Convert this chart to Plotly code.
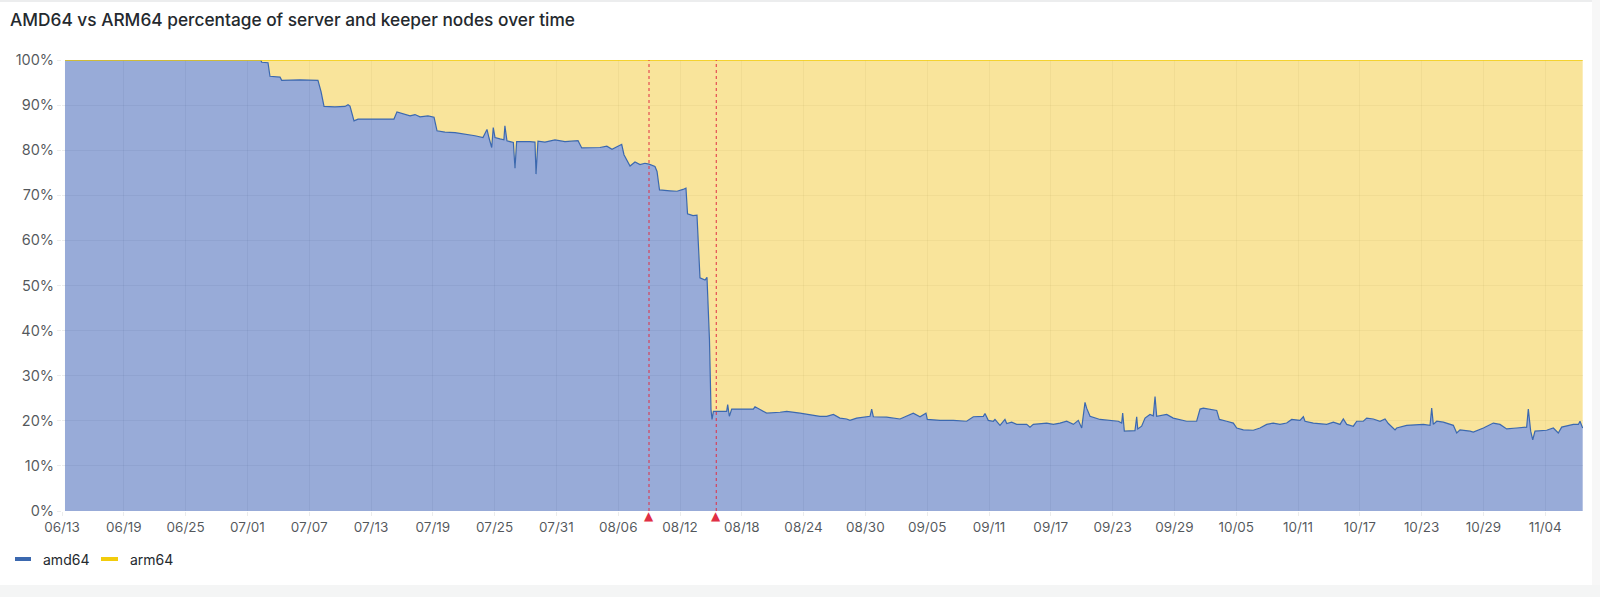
import pandas as pd
import plotly.graph_objects as go

# ---------------- data ----------------
start = pd.Timestamp("2024-06-13 00:00")

# days since 06/13 00:00
day_offset = [
    0.29, 19.30, 19.39, 20.00, 20.19, 21.17, 21.33, 23.10, 24.85, 25.15,
    25.44, 26.50, 27.48, 27.77, 27.96, 28.35, 28.74, 30.87, 32.23, 32.52,
    33.00, 33.79, 34.27, 34.76, 35.53, 36.12, 36.41, 37.18, 38.16, 39.13,
    40.10, 40.87, 41.26, 41.46, 41.72, 41.87, 42.04, 42.52, 42.90, 43.00,
    43.20, 43.50, 43.82, 43.98, 44.14, 45.44, 45.92, 46.02, 46.21, 46.89,
    47.86, 48.83, 50.10, 50.46, 52.23, 52.90, 53.40, 54.34, 54.56, 55.15,
    55.63, 56.12, 56.60, 56.99, 57.57, 57.77, 58.01, 59.03, 59.71, 60.29,
    60.58, 60.73, 61.26, 61.65, 61.94, 62.43, 62.62, 62.86, 63.01, 63.11,
    63.24, 64.53, 64.63, 64.79, 65.02, 67.12, 67.28, 67.77, 68.41, 69.71,
    70.36, 71.65, 72.62, 73.59, 74.24, 74.89, 75.53, 76.18, 76.50, 77.15,
    78.45, 78.61, 78.77, 80.06, 81.36, 82.33, 82.65, 83.30, 83.88, 84.01,
    85.24, 86.54, 87.83, 88.48, 89.45, 89.61, 89.93, 90.42, 90.58, 91.07,
    91.55, 91.72, 92.20, 92.69, 93.66, 93.98, 94.30, 95.60, 96.25, 96.89,
    97.54, 98.19, 98.67, 99.00, 99.32, 99.48, 99.81, 100.78, 102.56, 102.88,
    102.98, 103.14, 104.17, 104.34, 104.44, 104.82, 105.15, 105.63, 105.95, 106.12,
    106.28, 107.25, 107.89, 109.19, 110.16, 110.49, 110.81, 112.11, 112.36, 113.08,
    113.72, 114.05, 114.69, 115.66, 116.31, 116.96, 117.60, 118.25, 118.90, 119.39,
    120.19, 120.52, 120.68, 121.49, 122.14, 122.79, 123.43, 124.08, 124.40, 124.73,
    125.37, 125.70, 126.34, 126.67, 127.31, 127.96, 128.45, 128.77, 129.42, 129.58,
    130.55, 131.52, 132.17, 132.82, 132.98, 133.14, 133.47, 134.11, 135.08, 135.41,
    135.73, 136.70, 137.02, 138.00, 138.96, 139.61, 140.26, 141.23, 142.20, 142.36,
    142.59, 142.79, 143.01, 144.14, 144.79, 145.27, 145.60, 146.73, 147.22, 147.38,
    147.64,
]

amd64_pct = [
    100.0, 100.0, 99.5, 99.4, 96.4, 96.2, 95.5, 95.6, 95.5, 93.0,
    89.7, 89.6, 89.7, 90.1, 89.8, 86.5, 86.9, 86.8, 86.9, 88.5,
    88.2, 87.6, 87.9, 87.4, 87.6, 87.3, 84.3, 84.0, 83.9, 83.6,
    83.2, 82.8, 84.6, 82.7, 80.6, 85.0, 82.8, 82.5, 82.3, 85.4,
    82.1, 81.9, 81.7, 76.0, 81.9, 81.9, 81.8, 74.7, 82.0, 81.8,
    82.3, 81.9, 82.1, 80.5, 80.6, 80.9, 80.2, 81.3, 79.0, 76.5,
    77.4, 76.8, 77.1, 76.9, 76.4, 75.3, 71.2, 71.0, 70.9, 71.3,
    71.6, 65.9, 65.5, 65.6, 51.7, 51.2, 51.8, 38.0, 22.5, 20.3,
    22.1, 22.1, 23.6, 21.0, 22.6, 22.6, 23.1, 22.5, 21.7, 21.9,
    22.1, 21.7, 21.4, 21.0, 21.0, 21.4, 20.6, 20.4, 20.1, 20.6,
    21.0, 22.6, 20.9, 20.8, 20.4, 21.4, 21.7, 20.9, 21.7, 20.3,
    20.1, 20.1, 19.9, 20.9, 21.0, 21.6, 20.1, 19.9, 20.3, 19.0,
    20.3, 19.4, 19.7, 19.2, 19.2, 18.6, 19.2, 19.5, 19.2, 19.5,
    19.9, 19.2, 20.1, 18.4, 24.1, 22.8, 21.0, 20.3, 19.9, 19.5,
    21.7, 17.7, 17.8, 20.9, 18.2, 18.8, 20.6, 21.4, 21.1, 25.4,
    21.0, 21.4, 20.6, 19.9, 19.9, 22.6, 22.8, 22.3, 20.3, 19.9,
    19.5, 18.4, 18.0, 17.9, 18.4, 19.2, 19.5, 19.2, 19.5, 20.3,
    20.1, 20.9, 19.9, 19.5, 19.4, 19.2, 19.7, 19.2, 20.4, 19.2,
    18.8, 19.9, 19.9, 20.6, 20.4, 19.9, 20.4, 19.4, 18.0, 18.4,
    19.0, 19.2, 19.2, 19.0, 22.8, 19.2, 19.9, 19.7, 19.0, 17.3,
    18.0, 17.7, 17.5, 18.4, 19.5, 19.2, 18.2, 18.4, 18.6, 22.6,
    17.7, 15.8, 17.7, 17.9, 18.4, 17.3, 18.6, 19.2, 19.2, 19.9,
    18.4,
]

annotation_day = [56.99, 63.52]      # red dashed annotation markers
range_end_day = 147.67
y_ticks = list(range(0, 101, 10))
y_tick_text = [f"{v}%" for v in y_ticks]
series_names = ["amd64", "arm64"]

# ---------------- derived ----------------
times = start + pd.to_timedelta(day_offset, unit="D")
arm64_pct = [round(100 - v, 2) for v in amd64_pct]
ann_times = start + pd.to_timedelta(annotation_day, unit="D")
x_end = start + pd.to_timedelta(range_end_day, unit="D")

W, H = 1600, 597
ML, MR, MT, MB = 62, 17, 60, 86
PW, PH = W - ML - MR, H - MT - MB


def px_x(p):
    return (p - ML) / PW


def px_y(q):
    return (H - MB - q) / PH


BLUE_LINE = "#3B68AF"
BLUE_FILL = "rgba(83,115,190,0.6)"
YEL_LINE = "#F2CC0C"
YEL_FILL = "rgba(245,210,88,0.6)"
RED = "#E02F44"
FONT = "Inter, Noto Sans, sans-serif"
TXT = "#24292E"
TXT2 = "rgba(36,41,46,0.78)"
GRID = "rgba(36,41,46,0.09)"

fig = go.Figure()
fig.add_trace(go.Scatter(
    x=times, y=amd64_pct, name=series_names[0], mode="lines",
    stackgroup="one", line=dict(color=BLUE_LINE, width=1.2),
    fillcolor=BLUE_FILL, showlegend=False,
))
fig.add_trace(go.Scatter(
    x=times, y=arm64_pct, name=series_names[1], mode="lines",
    stackgroup="one", line=dict(color=YEL_LINE, width=1.5),
    fillcolor=YEL_FILL, showlegend=False, cliponaxis=False,
))

shapes = []
annotations = []
for t in ann_times:
    shapes.append(dict(type="line", xref="x", yref="paper", x0=t, x1=t, y0=0, y1=1,
                       line=dict(color=RED, width=1, dash="3px,3px"), layer="above"))
    annotations.append(dict(xref="x", yref="paper", x=t, y=0, yanchor="top",
                            xanchor="center", yshift=4, showarrow=False, text="▲",
                            font=dict(family="DejaVu Sans", size=12, color=RED)))

# page / panel decorations
shapes.append(dict(type="rect", xref="paper", yref="paper",
                   x0=px_x(0), x1=px_x(W), y0=px_y(H), y1=px_y(585),
                   fillcolor="#F4F5F5", line=dict(width=0), layer="below"))
shapes.append(dict(type="rect", xref="paper", yref="paper",
                   x0=px_x(1592), x1=px_x(W), y0=px_y(585), y1=px_y(0),
                   fillcolor="#F7F7F7", line=dict(width=0), layer="below"))
shapes.append(dict(type="line", xref="paper", yref="paper",
                   x0=px_x(0), x1=px_x(1592), y0=px_y(1), y1=px_y(1),
                   line=dict(color="#E6E7E8", width=1.5), layer="below"))

# custom legend
legend_items = [(series_names[0], BLUE_LINE, 15, 31, 41),
                (series_names[1], YEL_LINE, 101, 118, 128)]
for name, col, s0, s1, tx in legend_items:
    shapes.append(dict(type="line", xref="paper", yref="paper",
                       x0=px_x(s0), x1=px_x(s1), y0=px_y(559), y1=px_y(559),
                       line=dict(color=col, width=4)))
    annotations.append(dict(xref="paper", yref="paper", x=px_x(tx), y=px_y(559),
                            xanchor="left", yanchor="middle", showarrow=False,
                            text=name, font=dict(family=FONT, size=14, color=TXT)))

fig.update_layout(
    width=W, height=H,
    margin=dict(l=ML, r=MR, t=MT, b=MB),
    paper_bgcolor="white", plot_bgcolor="white",
    title=dict(text="AMD64 vs ARM64 percentage of server and keeper nodes over time",
               xref="container", yref="container", x=10 / W, y=1 - 20 / H,
               xanchor="left", yanchor="middle",
               font=dict(family=FONT, size=17.3, color=TXT, weight=500)),
    xaxis=dict(type="date", range=[start, x_end], tick0=start, dtick=6 * 86400000,
               tickformat="%m/%d", showgrid=True, gridcolor=GRID, gridwidth=1,
               ticks="outside", ticklen=4, tickcolor=GRID, showline=False,
               zeroline=False, tickfont=dict(family=FONT, size=13.5, color=TXT2)),
    yaxis=dict(range=[0, 100], tickmode="array", tickvals=y_ticks, ticktext=y_tick_text,
               showgrid=True, gridcolor=GRID, gridwidth=1, ticks="outside", ticklen=4,
               tickcolor=GRID, showline=False, zeroline=False,
               tickfont=dict(family=FONT, size=14.5, color=TXT2)),
    shapes=shapes, annotations=annotations,
    hovermode=False,
)

fig.write_html("out.html", config={"displayModeBar": False},
               post_script="document.body.style.margin='0';document.body.style.overflow='hidden';")
